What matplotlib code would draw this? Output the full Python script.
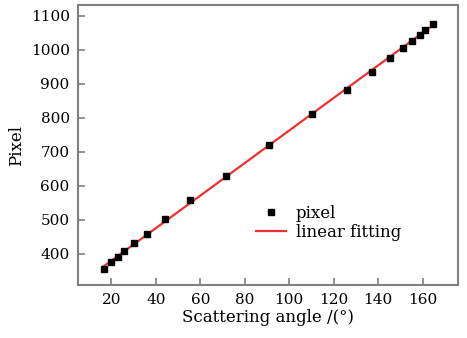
import numpy as np
import matplotlib
matplotlib.use("Agg")
import matplotlib.pyplot as plt

# scattering angle (deg) vs pixel position
angle = [16.7, 20.0, 22.8, 25.8, 30.3, 36.2, 44.2, 55.3, 71.4, 90.7,
         110.3, 126.0, 137.3, 145.3, 151.1, 155.4, 158.7, 161.2, 164.7]
pixel = [356, 375, 390, 408, 431, 460, 502, 559, 630, 721,
         811, 882, 936, 976, 1007, 1027, 1045, 1059, 1077]
xticks = [20, 40, 60, 80, 100, 120, 140, 160]
yticks = [400, 500, 600, 700, 800, 900, 1000, 1100]

plt.rcParams['font.family'] = ['DejaVu Serif']
plt.rcParams['font.size'] = 11

angle = np.array(angle)
pixel = np.array(pixel)
k, b = np.polyfit(angle, pixel, 1)
xf = np.array([angle.min(), angle.max()])

fig = plt.figure(figsize=(4.67, 3.38), dpi=100)
ax = fig.add_axes([0.167, 0.157, 0.814, 0.828])

ax.plot(angle, pixel, 's', color='black', markersize=5, label='pixel', zorder=3)
ax.plot(xf, k * xf + b, '-', color='#f03030', lw=1.6, label='linear fitting', zorder=2)

ax.set_xlim(5, 176)
ax.set_ylim(309, 1132)
ax.set_xticks(xticks)
ax.set_yticks(yticks)
ax.tick_params(direction='in', length=5, width=1.2, color='#808080',
               labelsize=11, pad=6)
for s in ax.spines.values():
    s.set_color('#808080')
    s.set_linewidth(1.5)

ax.set_xlabel('Scattering angle /(°)', fontsize=12, labelpad=1)
ax.set_ylabel('Pixel', fontsize=12, labelpad=4)

ax.legend(loc='upper left', bbox_to_anchor=(0.45, 0.31), frameon=False,
          handlelength=1.8, handletextpad=0.6, labelspacing=0.1,
          borderaxespad=0, fontsize=12, markerscale=0.8)

fig.savefig('out.png', dpi=100)
